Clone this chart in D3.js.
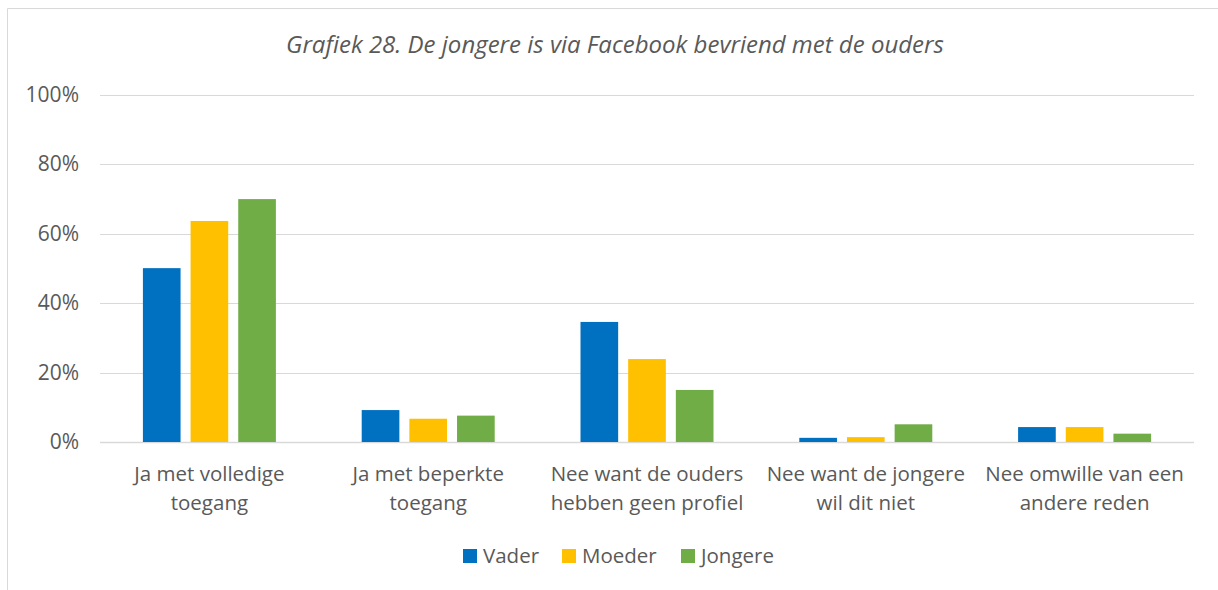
<!DOCTYPE html>
<html>
<head>
<meta charset="utf-8">
<script src="https://cdn.jsdelivr.net/npm/d3@7"></script>
<style>
  body { margin: 0; background: #fff; }
  text { font-family: "Open Sans", sans-serif; fill: #595959; }
</style>
</head>
<body>
<div id="caja"></div>
<script>
// categorieen en reeksen
var categorieen = [
  ["Ja met volledige", "toegang"],
  ["Ja met beperkte", "toegang"],
  ["Nee want de ouders", "hebben geen profiel"],
  ["Nee want de jongere", "wil dit niet"],
  ["Nee omwille van een", "andere reden"]
];
var reeksen = ["Vader", "Moeder", "Jongere"];
var vader   = [50.1, 9.2, 34.6, 1.2, 4.3];
var moeder  = [63.7, 6.7, 23.9, 1.4, 4.3];
var jongere = [70.0, 7.6, 15.0, 5.1, 2.4];
var yTicks = [0, 20, 40, 60, 80, 100];
var kleuren = ["#0070c0", "#ffc000", "#70ad47"];

var w = 1218, h = 590;
var links = 100, rechts = 1194, boven = 95, onder = 442;

var svg = d3.select('#caja')
  .append('svg')
  .attr('width', w)
  .attr('height', h);

// rand van de grafiek (alleen links en boven zichtbaar)
svg.append("path")
  .attr("d", "M7.5,590 L7.5,8.5 L1218,8.5")
  .attr("fill", "none")
  .attr("stroke", "#d9d9d9")
  .attr("stroke-width", 1);

var x0 = d3.scaleBand()
  .domain(d3.range(categorieen.length))
  .range([links, rechts]);

var x1 = d3.scaleBand()
  .domain(reeksen)
  .range([0, x0.bandwidth()])
  .paddingInner(0.21)
  .paddingOuter(0.9);

var y = d3.scaleLinear()
  .domain([0, 100])
  .range([onder, boven]);

// rasterlijnen
svg.append("g")
  .selectAll("line")
  .data(yTicks)
  .enter()
  .append("line")
  .attr("x1", links)
  .attr("x2", rechts)
  .attr("y1", function(d) { return Math.round(y(d)) + 0.5; })
  .attr("y2", function(d) { return Math.round(y(d)) + 0.5; })
  .attr("stroke", "#d9d9d9")
  .attr("stroke-width", function(d) { return d === 0 ? 1.5 : 1; });

// y-as labels
svg.append("g")
  .selectAll("text")
  .data(yTicks)
  .enter()
  .append("text")
  .text(function(d) { return d + "%"; })
  .attr("x", 79)
  .attr("y", function(d) { return y(d) + 7; })
  .attr("text-anchor", "end")
  .attr("font-size", "21px");

// balken
var data = categorieen.map(function(c, i) {
  return [vader[i], moeder[i], jongere[i]];
});

var groepen = svg.append("g")
  .selectAll("g")
  .data(data)
  .enter()
  .append("g")
  .attr("transform", function(d, i) { return "translate(" + x0(i) + ",0)"; });

groepen.selectAll("rect")
  .data(function(d) { return d; })
  .enter()
  .append("rect")
  .attr("x", function(d, j) { return x1(reeksen[j]); })
  .attr("y", function(d) { return y(d); })
  .attr("width", x1.bandwidth())
  .attr("height", function(d) { return onder - y(d); })
  .attr("fill", function(d, j) { return kleuren[j]; });

// categorie labels
var labels = svg.append("g")
  .selectAll("text")
  .data(categorieen)
  .enter()
  .append("text")
  .attr("text-anchor", "middle")
  .attr("font-size", "20.5px")
  .attr("transform", function(d, i) {
    return "translate(" + (x0(i) + x0.bandwidth() / 2) + ",481)";
  });

labels.selectAll("tspan")
  .data(function(d) { return d; })
  .enter()
  .append("tspan")
  .attr("x", 0)
  .attr("dy", function(d, k) { return k === 0 ? 0 : 29; })
  .text(function(d) { return d; });

// titel
svg.append("text")
  .text("Grafiek 28. De jongere is via Facebook bevriend met de ouders")
  .attr("x", 615)
  .attr("y", 53)
  .attr("text-anchor", "middle")
  .attr("font-style", "italic")
  .attr("font-size", "24px");

// legenda
var legX = [463, 562, 681];
var leg = svg.append("g")
  .selectAll("g")
  .data(reeksen)
  .enter()
  .append("g")
  .attr("transform", function(d, i) { return "translate(" + legX[i] + ",549)"; });

leg.append("rect")
  .attr("width", 14)
  .attr("height", 14)
  .attr("fill", function(d, i) { return kleuren[i]; });

leg.append("text")
  .text(function(d) { return d; })
  .attr("x", 20)
  .attr("y", 14)
  .attr("font-size", "20.5px");
</script>
</body>
</html>
